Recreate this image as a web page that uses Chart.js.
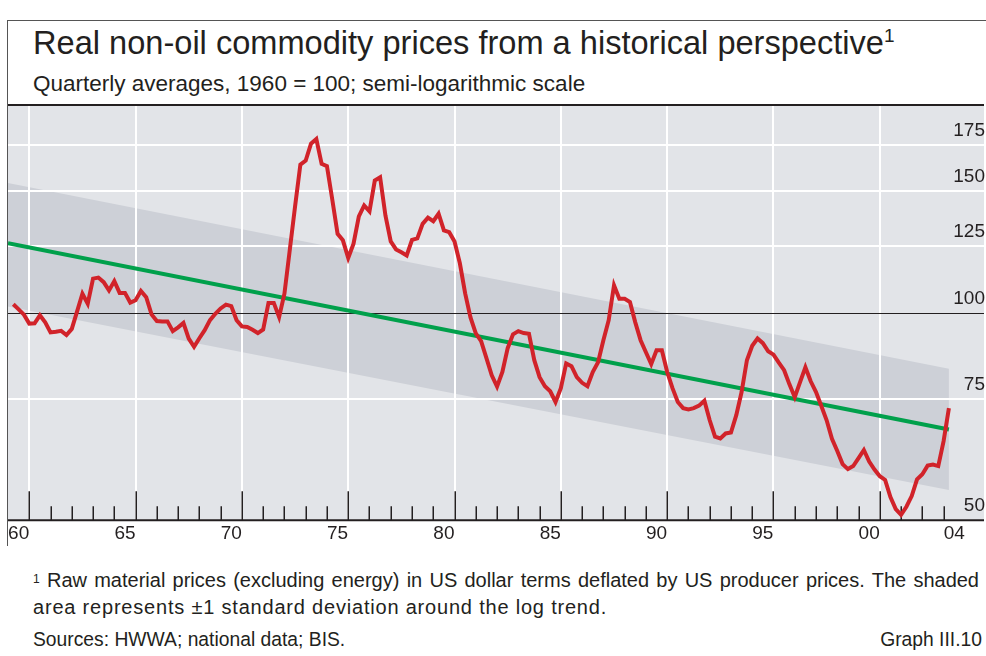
<!DOCTYPE html>
<html>
<head>
<meta charset="utf-8">
<script src="https://cdn.jsdelivr.net/npm/chart.js@4.4.1/dist/chart.umd.min.js"></script>
<style>
  body { margin: 0; width: 986px; height: 656px; background: #fff; position: relative; overflow: hidden;
         font-family: "Liberation Sans", Arial, sans-serif; color: #231f20; }
  #frame { position: absolute; left: 7px; top: 20px; width: 990px; height: 525px;
           border-left: 1px solid #555; border-top: 1px solid #555; }
  .title { position: absolute; left: 33px; top: 24px; font-size: 32.6px; white-space: nowrap; }
  .title sup { font-size: 19px; vertical-align: top; position: relative; top: 1px; }
  .subtitle { position: absolute; left: 33px; top: 71px; font-size: 22.5px; white-space: nowrap; }
  #wrap { position: absolute; left: 8px; top: 103px; width: 978px; height: 444px; }
  .note { position: absolute; left: 33px; width: 946px; font-size: 20px; line-height: 27px; white-space: nowrap; }
  .note.l1 { top: 567px; text-align: justify; text-align-last: justify; }
  .note.l2 { top: 594px; letter-spacing: 0.8px; }
  .note sup { font-size: 12px; vertical-align: top; position: relative; top: -1px; }
  .src { position: absolute; left: 33px; top: 629px; font-size: 19.3px; }
  .graph { position: absolute; right: 4px; top: 629px; font-size: 19.3px; }
</style>
</head>
<body>
<div id="frame"></div>
<div class="title">Real non-oil commodity prices from a historical perspective<sup>1</sup></div>
<div class="subtitle">Quarterly averages, 1960 = 100; semi-logarithmic scale</div>
<div id="wrap"><canvas id="chart"></canvas></div>
<div class="note l1"><sup>1</sup> Raw material prices (excluding energy) in US dollar terms deflated by US producer prices. The shaded</div>
<div class="note l2">area represents ±1 standard deviation around the log trend.</div>
<div class="src">Sources: HWWA; national data; BIS.</div>
<div class="graph">Graph III.10</div>

<script>
// quarterly index, 1960 Q1 - 2004 Q1 (plotted at quarter end)
const firstQuarter = 1960.25;
const prices = [
  102.8, 101.1, 99.3, 96.4, 96.5, 99.1, 96.8, 93.6, 93.8, 94.1,
  92.8, 94.7, 100.4, 106.5, 103.0, 112.0, 112.4, 110.7, 107.7, 111.1,
  106.8, 106.8, 103.4, 104.2, 107.5, 105.3, 99.4, 97.2, 97.1, 97.1,
  94.0, 95.2, 96.6, 91.7, 89.2, 91.8, 94.3, 97.5, 99.6, 101.4,
  102.7, 102.2, 97.5, 95.5, 95.3, 94.4, 93.4, 94.5, 103.3, 103.3,
  98.5, 106.5, 123.1, 142.5, 163.9, 166.1, 175.8, 178.5, 164.3, 163.1,
  145.9, 130.1, 127.3, 120.0, 125.9, 137.9, 143.0, 140.2, 155.4, 157.1,
  138.3, 126.8, 123.5, 122.3, 121.0, 127.5, 128.1, 134.5, 137.3, 135.7,
  139.1, 131.6, 130.8, 126.8, 117.9, 106.6, 98.4, 93.3, 90.9, 85.9,
  81.1, 78.1, 82.0, 88.8, 93.0, 94.0, 93.4, 93.2, 85.3, 80.6,
  78.2, 76.9, 74.2, 77.7, 84.4, 83.6, 80.6, 79.1, 78.2, 82.0,
  84.7, 91.2, 97.5, 109.5, 104.7, 104.7, 103.6, 96.8, 91.2, 87.6,
  84.2, 88.2, 88.2, 82.0, 77.7, 74.2, 72.7, 72.4, 72.7, 73.3,
  74.5, 69.8, 66.1, 65.7, 66.8, 67.0, 71.0, 76.7, 85.3, 89.5,
  91.7, 90.3, 87.9, 86.9, 84.6, 82.5, 78.7, 75.4, 79.3, 83.3,
  79.5, 76.7, 73.2, 69.8, 65.6, 63.0, 60.3, 59.3, 59.9, 61.5,
  63.2, 60.8, 59.2, 57.9, 57.2, 54.0, 51.9, 50.9, 52.3, 54.2,
  57.3, 58.3, 60.0, 60.2, 59.9, 65.1, 72.7
];

// log trend and +/-1 standard deviation band (end points)
const trendYears = [1960, 2004.25];
const trend = [126.1, 67.7];
const bandUpper = [154.2, 82.9];
const bandLower = [102.1, 55.3];

const xLabelYears = [1960, 1965, 1970, 1975, 1980, 1985, 1990, 1995, 2000, 2004];
const xLabels = ['60', '65', '70', '75', '80', '85', '90', '95', '00', '04'];
const yTicks = [50, 75, 100, 125, 150, 175];

const ink = '#231f20';
const plotBg = '#e2e4e8';
const bandColor = '#cdd0d7';

const pts = (xs, ys) => xs.map((x, i) => ({ x: x, y: ys[i] }));

// labels sit inside the frame, so no extra room around the plot
const noPadding = s => {
  s.paddingTop = 0; s.paddingBottom = 0; s.paddingLeft = 0; s.paddingRight = 0;
};

const plotDecor = {
  id: 'plotDecor',
  beforeDraw(chart) {
    const { ctx, chartArea: a } = chart;
    ctx.save();
    ctx.fillStyle = plotBg;
    ctx.fillRect(a.left, a.top, a.right - a.left, a.bottom - a.top);
    ctx.restore();
  },
  beforeDatasetsDraw(chart) {
    const { ctx, chartArea: a, scales: { x, y } } = chart;
    ctx.save();
    // white grid on top of the band
    ctx.strokeStyle = '#fff';
    ctx.lineWidth = 2;
    for (let yr = 1961; yr <= 2004; yr += 5) {
      const px = Math.round(x.getPixelForValue(yr));
      ctx.beginPath(); ctx.moveTo(px, a.top); ctx.lineTo(px, a.bottom); ctx.stroke();
    }
    yTicks.forEach(v => {
      if (v === 50 || v === 100) return;
      const py = Math.round(y.getPixelForValue(v));
      ctx.beginPath(); ctx.moveTo(a.left, py); ctx.lineTo(a.right, py); ctx.stroke();
    });
    // 100 line
    ctx.strokeStyle = ink;
    ctx.lineWidth = 1.2;
    const p100 = Math.round(y.getPixelForValue(100)) + 0.5;
    ctx.beginPath(); ctx.moveTo(a.left, p100); ctx.lineTo(a.right, p100); ctx.stroke();
    // top border and bottom axis
    ctx.lineWidth = 2;
    ctx.beginPath(); ctx.moveTo(a.left, a.top); ctx.lineTo(a.right, a.top); ctx.stroke();
    ctx.beginPath(); ctx.moveTo(a.left, a.bottom); ctx.lineTo(a.right, a.bottom); ctx.stroke();
    // year ticks
    ctx.lineWidth = 1.5;
    for (let yr = 1961; yr <= 2004; yr++) {
      const px = Math.round(x.getPixelForValue(yr)) + 0.25;
      const len = (yr - 1961) % 5 === 0 ? 29 : 14;
      ctx.beginPath(); ctx.moveTo(px, a.bottom); ctx.lineTo(px, a.bottom - len); ctx.stroke();
    }
    ctx.restore();
  }
};

new Chart(document.getElementById('chart'), {
  type: 'line',
  data: {
    datasets: [
      {
        data: prices.map((v, i) => ({ x: firstQuarter + i * 0.25, y: v })),
        borderColor: '#d1232a',
        borderWidth: 4,
        pointRadius: 0,
        tension: 0,
        fill: false
      },
      {
        data: pts(trendYears, trend),
        borderColor: '#00a04b',
        borderWidth: 4,
        pointRadius: 0,
        fill: false
      },
      {
        data: pts(trendYears, bandUpper),
        borderColor: 'rgba(0,0,0,0)',
        borderWidth: 0,
        pointRadius: 0,
        backgroundColor: bandColor,
        fill: '+1'
      },
      {
        data: pts(trendYears, bandLower),
        borderColor: 'rgba(0,0,0,0)',
        borderWidth: 0,
        pointRadius: 0,
        fill: false
      }
    ]
  },
  options: {
    responsive: true,
    maintainAspectRatio: false,
    animation: false,
    layout: { padding: { top: 2, left: 0, right: 0, bottom: 0 } },
    plugins: {
      legend: { display: false },
      tooltip: { enabled: false },
      filler: { drawTime: 'beforeDatasetsDraw' }
    },
    scales: {
      x: {
        type: 'linear',
        min: 1960,
        max: 2005.9,
        grid: { display: false, drawTicks: false },
        border: { display: false },
        afterBuildTicks: s => { s.ticks = xLabelYears.map(v => ({ value: v + 0.5 })); },
        afterFit: noPadding,
        ticks: {
          autoSkip: false,
          maxRotation: 0,
          padding: 2,
          color: ink,
          font: { family: '"Liberation Sans", Arial, sans-serif', size: 19 },
          callback: (value, index) => xLabels[index]
        }
      },
      y: {
        type: 'logarithmic',
        position: 'right',
        min: 50,
        max: 200,
        grid: { display: false, drawTicks: false },
        border: { display: false },
        afterBuildTicks: s => { s.ticks = yTicks.map(v => ({ value: v })); },
        afterFit: noPadding,
        ticks: {
          mirror: true,
          padding: 1,
          labelOffset: -14,
          color: ink,
          font: { family: '"Liberation Sans", Arial, sans-serif', size: 19 },
          callback: value => String(value)
        }
      }
    }
  },
  plugins: [plotDecor]
});
</script>
</body>
</html>
